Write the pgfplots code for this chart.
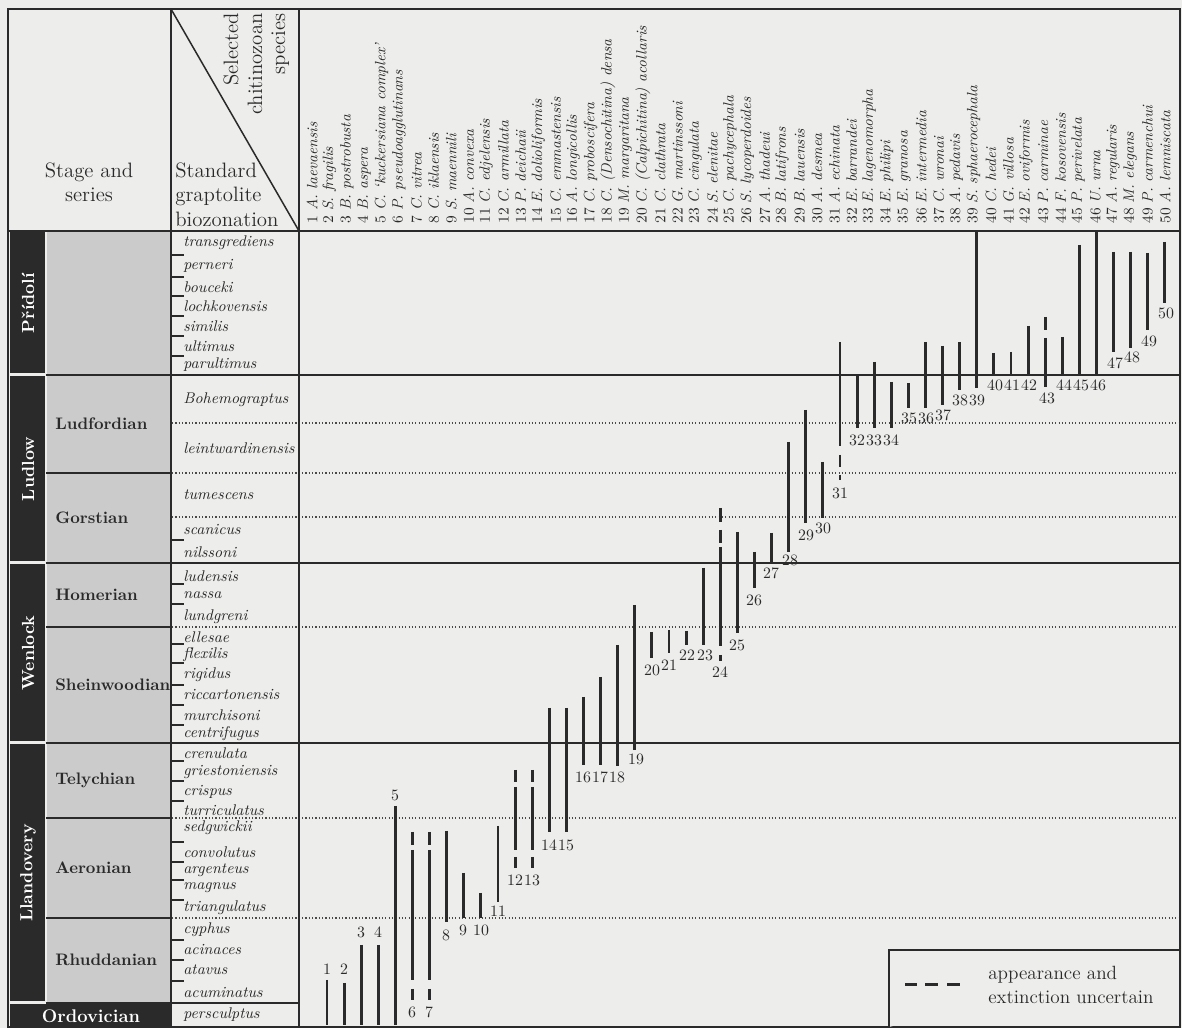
\documentclass[border=0pt]{standalone}
\usepackage{pgfplots}
\pgfplotsset{compat=1.18}
\definecolor{bg}{HTML}{EDEDEC}
\definecolor{ink}{HTML}{2A2A2A}
\definecolor{stagegray}{HTML}{CBCBCB}
\begin{document}
\begin{tikzpicture}
\begin{scope}[x=0.6pt, y=-0.6pt, yshift=616.8pt]
\useasboundingbox (0,0) rectangle (1182,1028);
% background
\fill[bg] (0,0) rectangle (1182,1028);
% series column (black) and stage column (gray)
\fill[stagegray] (46.5,232) rectangle (171,1003);
\fill[ink] (10,232) rectangle (45,373.5);
\fill[ink] (10,376.5) rectangle (45,561.5);
\fill[ink] (10,564.5) rectangle (45,741.5);
\fill[ink] (10,744.5) rectangle (45,1001.5);
\fill[ink] (10,1004.5) rectangle (171,1027);
% dotted zone lines
\foreach \yy in {423,473,517,627,818,918}{
  \draw[ink!85, line width=0.7pt, dash pattern=on 0.7pt off 1.3pt] (172,\yy) -- (1180,\yy);
}
% stage boundaries
\foreach \yy in {473,627,818,918}{
  \draw[ink, line width=0.9pt] (46,\yy) -- (172,\yy);
}
% series boundaries
\foreach \yy in {375,563,743}{
  \draw[ink, line width=0.9pt] (46,\yy) -- (1180,\yy);
}
\draw[ink, line width=0.9pt] (46,1003) -- (299,1003);
% ticks in biozone column
\foreach \yy in {255,277,296,316,336,356,540,584,604,644,663,685,705,725,761,781,801,842,862,880,900,940,960,981}{
  \draw[ink, line width=0.8pt] (172,\yy) -- (184,\yy);
}
% verticals, header, frame
\draw[ink, line width=0.9pt] (171,9) -- (171,1027);
\draw[ink, line width=0.9pt] (299,9) -- (299,1027);
\draw[ink, line width=0.9pt] (171,9) -- (299,231);
\draw[ink, line width=1.2pt] (8,231) -- (1180,231);
\draw[ink, line width=1.4pt] (8,9) rectangle (1180,1027);
% header texts
\node[ink, font=\fontsize{12.5}{14}\selectfont, anchor=base] at (89,178) {Stage and};
\node[ink, font=\fontsize{12.5}{14}\selectfont, anchor=base] at (89,202) {series};
\node[ink, font=\fontsize{12.5}{14}\selectfont, anchor=base west, inner sep=0pt] at (175,178) {Standard};
\node[ink, font=\fontsize{12.5}{14}\selectfont, anchor=base west, inner sep=0pt] at (175,202) {graptolite};
\node[ink, font=\fontsize{12.5}{14}\selectfont, anchor=base west, inner sep=0pt] at (175,227) {biozonation};
\node[ink, font=\fontsize{12.5}{14}\selectfont, rotate=90, anchor=base east, inner sep=0pt] at (238,13) {Selected};
\node[ink, font=\fontsize{12.5}{14}\selectfont, rotate=90, anchor=base east, inner sep=0pt] at (262,13) {chitinozoan};
\node[ink, font=\fontsize{12.5}{14}\selectfont, rotate=90, anchor=base east, inner sep=0pt] at (285,13) {species};
% series names
\node[white, font=\fontsize{10.5}{12}\selectfont\bfseries, rotate=90] at (28,303) {P\v{r}\'{\i}dol\'{\i}};
\node[white, font=\fontsize{10.5}{12}\selectfont\bfseries, rotate=90] at (28,469) {Ludlow};
\node[white, font=\fontsize{10.5}{12}\selectfont\bfseries, rotate=90] at (28,653) {Wenlock};
\node[white, font=\fontsize{10.5}{12}\selectfont\bfseries, rotate=90] at (28,873) {Llandovery};
\node[white, font=\fontsize{11}{12}\selectfont\bfseries] at (91,1016) {Ordovician};
% stage names
\foreach \yy/\nm in {424/Ludfordian,518/Gorstian,595/Homerian,685/Sheinwoodian,780/Telychian,868/Aeronian,960/Rhuddanian}{
  \node[ink, font=\fontsize{10}{12}\selectfont\bfseries, anchor=west, inner sep=0pt] at (55,\yy) {\nm};
}
% biozones
\foreach \yy/\nm in {243/transgrediens,266/perneri,287/bouceki,306/lochkovensis,326/similis,346/ultimus,365/parultimus,400/Bohemograptus,448/leintwardinensis,495/tumescens,530/scanicus,552/nilssoni,576/ludensis,595/nassa,617/lundgreni,637/ellesae,655/flexilis,675/rigidus,695/riccartonensis,715/murchisoni,734/centrifugus,753/crenulata,772/griestoniensis,792/crispus,810/turriculatus,828/sedgwickii,852/convolutus,870/argenteus,888/magnus,908/triangulatus,930/cyphus,950/acinaces,970/atavus,993/acuminatus,1015/persculptus}{
  \node[ink, font=\fontsize{9.3}{10}\selectfont\itshape, anchor=west, inner sep=0pt] at (183,\yy) {\nm};
}
% species labels
\foreach \i/\g/\s [evaluate=\i as \xx using {312+(\i-1)*17.41}] in {
 1/A./laevaensis, 2/S./fragilis, 3/B./postrobusta, 4/B./aspera, 5/C./`kuckersiana complex', 6/P./pseudoagglutinans, 7/C./vitrea, 8/C./iklaensis, 9/S./maennili, 10/A./convexa,
 11/C./edjelensis, 12/C./armillata, 13/P./deichaii, 14/E./dolioliformis, 15/C./emmastensis, 16/A./longicollis, 17/C./proboscifera, 18/C./(Densochitina) densa, 19/M./margaritana, 20/C./(Calpichitina) acollaris,
 21/C./clathrata, 22/G./martinssoni, 23/C./cingulata, 24/S./elenitae, 25/C./pachycephala, 26/S./lycoperdoides, 27/A./thadeui, 28/B./latifrons, 29/B./lauensis, 30/A./desmea,
 31/A./echinata, 32/E./barrandei, 33/E./lagenomorpha, 34/E./philipi, 35/E./granosa, 36/E./intermedia, 37/C./wronai, 38/A./pedavis, 39/S./sphaerocephala, 40/C./hedei,
 41/G./villosa, 42/E./oviformis, 43/P./carminae, 44/F./kosovensis, 45/P./perivelata, 46/U./urna, 47/A./regularis, 48/M./elegans, 49/P./carmenchui, 50/A./lemniscata}{
  \node[ink, font=\fontsize{9}{10}\selectfont, rotate=90, anchor=west, inner sep=0pt] at (\xx,224) {\i\ \textit{\g\ \s}};
}
% range numbers
\foreach \xx/\yy/\n in {327/969/1,344/969/2,361/932/3,378/932/4,395/795/5,412/1012/6,429/1012/7,446/935/8,463/930/9,481/930/10,
 498/911/11,515/880/12,532/880/13,549/845/14,566/845/15,583/777/16,600/777/17,617/777/18,636/759/19,652/670/20,
 669/665/21,687/655/22,705/655/23,720/672/24,737/645/25,754/600/26,771/573/27,790/560/28,806/535/29,823/528/30,
 840/493/31,857/440/32,874/440/33,891/440/34,909/418/35,926/418/36,943/415/37,960/400/38,977/400/39,995/385/40,
 1012/385/41,1029/385/42,1047/398/43,1064/385/44,1081/385/45,1098/385/46,1115/363/47,1132/357/48,1149/341/49,1166/313/50}{
  \node[ink, font=\fontsize{9.5}{10}\selectfont, inner sep=0pt] at (\xx,\yy) {\n};
}
% legend box
\draw[ink, line width=1.2pt, fill=bg] (889,1027) -- (889,950) -- (1180,950);
\node[ink, font=\fontsize{11.5}{13}\selectfont, anchor=west, inner sep=0pt] at (988,975) {appearance and};
\node[ink, font=\fontsize{11.5}{13}\selectfont, anchor=west, inner sep=0pt] at (988,997) {extinction uncertain};
\end{scope}
\begin{axis}[
  at={(0pt,0pt)}, anchor=south west,
  scale only axis, width=709.2pt, height=616.8pt,
  xmin=0, xmax=1182, ymin=0, ymax=1028, y dir=reverse,
  axis lines=none, clip=false, ticks=none,
  rngstyle/.style={ink, line width=1.7pt, mark=none},
]
\newcommand{\rng}[3]{\addplot[rngstyle] coordinates {(#1,#2) (#1,#3)};}
\rng{327.0}{980}{1025}
\rng{344.1}{983}{1025}
\rng{361.2}{945}{1025}
\rng{378.3}{945}{1025}
\rng{395.4}{806}{1025}
\rng{412.5}{832}{845}\rng{412.5}{850}{980}\rng{412.5}{989}{1000}
\rng{429.6}{832}{845}\rng{429.6}{850}{980}\rng{429.6}{989}{1000}
\rng{446.7}{831}{922}
\rng{463.8}{873}{918}
\rng{480.9}{893}{918}
\rng{498.0}{826}{902}
\rng{515.1}{770}{782}\rng{515.1}{787}{850}\rng{515.1}{857}{868}
\rng{532.2}{770}{782}\rng{532.2}{787}{850}\rng{532.2}{857}{868}
\rng{549.3}{708}{832}
\rng{566.4}{708}{832}
\rng{583.5}{697}{765}
\rng{600.6}{677}{765}
\rng{617.7}{645}{766}
\rng{634.8}{605}{750}
\rng{651.9}{632}{658}
\rng{669.0}{630}{653}
\rng{686.1}{631}{645}
\rng{703.2}{568}{645}
\rng{720.3}{508}{522}\rng{720.3}{530}{543}\rng{720.3}{547}{646}\rng{720.3}{655}{661}
\rng{737.4}{532}{633}
\rng{754.5}{552}{588}
\rng{771.6}{533}{563}
\rng{788.7}{442}{552}
\rng{805.8}{410}{523}
\rng{822.9}{462}{518}
\rng{840.0}{342}{446}\rng{840.0}{455}{467}\rng{840.0}{475}{480}
\rng{857.1}{376}{428}
\rng{874.2}{362}{428}
\rng{891.3}{382}{428}
\rng{908.4}{383}{408}
\rng{925.5}{342}{408}
\rng{942.6}{346}{405}
\rng{959.7}{342}{390}
\rng{976.8}{232}{388}
\rng{993.9}{353}{375}
\rng{1011.0}{352}{375}
\rng{1028.1}{326}{375}
\rng{1045.2}{317}{330}\rng{1045.2}{338}{387}
\rng{1062.3}{337}{375}
\rng{1079.4}{245}{375}
\rng{1096.5}{232}{375}
\rng{1113.6}{252}{352}
\rng{1130.7}{252}{348}
\rng{1147.8}{253}{330}
\rng{1164.9}{242}{303}
% legend sample (dashed)
\addplot[ink, line width=1.8pt, mark=none] coordinates {(905,985) (917,985)};
\addplot[ink, line width=1.8pt, mark=none] coordinates {(925,985) (938,985)};
\addplot[ink, line width=1.8pt, mark=none] coordinates {(947,985) (960,985)};
\end{axis}
\end{tikzpicture}
\end{document}
